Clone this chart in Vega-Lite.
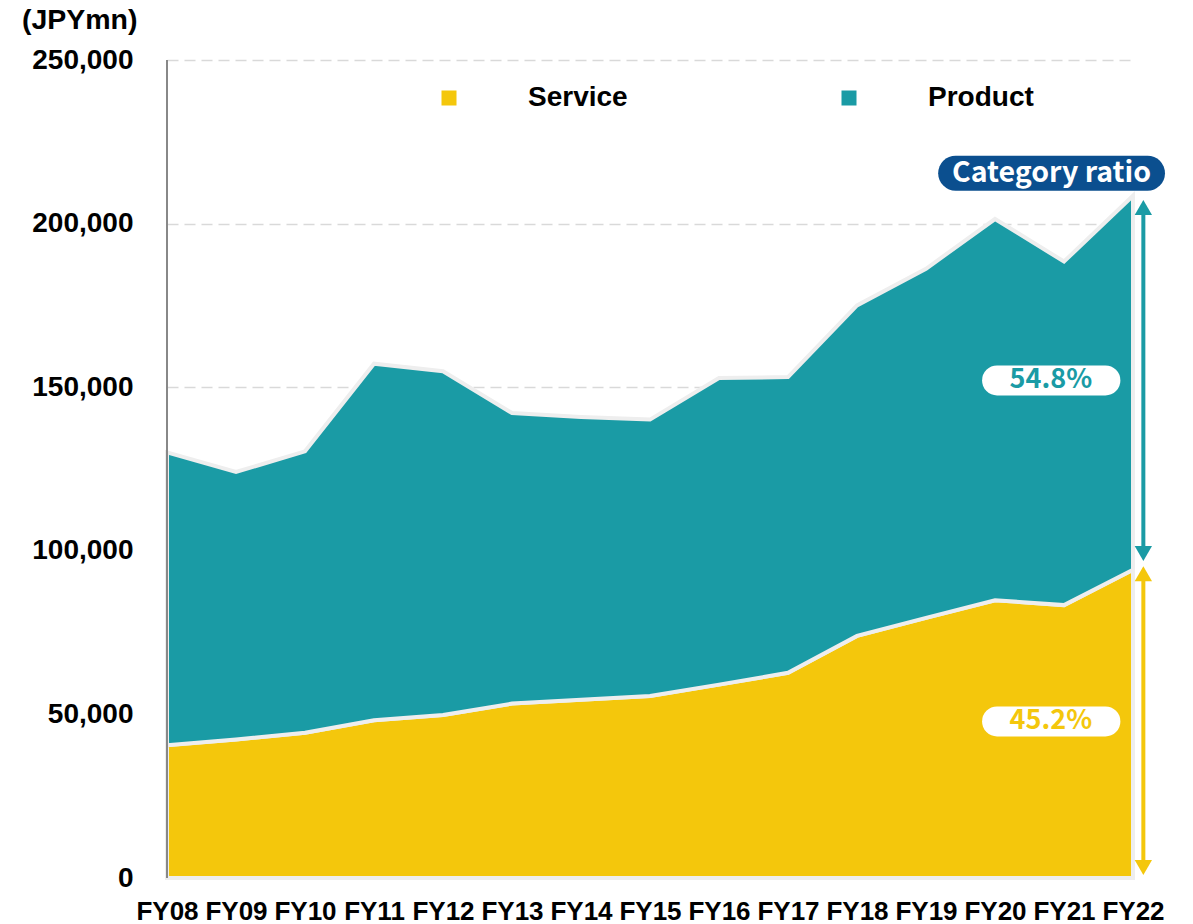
{
  "$schema": "https://vega.github.io/schema/vega-lite/v6.json",
  "width": 966,
  "height": 818,
  "autosize": {"type": "none"},
  "padding": {"left": 167, "top": 60, "right": 60, "bottom": 46},
  "background": "white",
  "config": {"view": {"stroke": null}, "font": "Liberation Sans"},
  "datasets": {
    "sales": [
      {"year": 2008, "category": "Service", "value": 40600},
      {"year": 2009, "category": "Service", "value": 42300},
      {"year": 2010, "category": "Service", "value": 44400},
      {"year": 2011, "category": "Service", "value": 48200},
      {"year": 2012, "category": "Service", "value": 49800},
      {"year": 2013, "category": "Service", "value": 53300},
      {"year": 2014, "category": "Service", "value": 54500},
      {"year": 2015, "category": "Service", "value": 55600},
      {"year": 2016, "category": "Service", "value": 59100},
      {"year": 2017, "category": "Service", "value": 62700},
      {"year": 2018, "category": "Service", "value": 74000},
      {"year": 2019, "category": "Service", "value": 79500},
      {"year": 2020, "category": "Service", "value": 84900},
      {"year": 2021, "category": "Service", "value": 83400},
      {"year": 2022, "category": "Service", "value": 94200},
      {"year": 2008, "category": "Product", "value": 89500},
      {"year": 2009, "category": "Product", "value": 81800},
      {"year": 2010, "category": "Product", "value": 86000},
      {"year": 2011, "category": "Product", "value": 109000},
      {"year": 2012, "category": "Product", "value": 105100},
      {"year": 2013, "category": "Product", "value": 88800},
      {"year": 2014, "category": "Product", "value": 86400},
      {"year": 2015, "category": "Product", "value": 84500},
      {"year": 2016, "category": "Product", "value": 93700},
      {"year": 2017, "category": "Product", "value": 90400},
      {"year": 2018, "category": "Product", "value": 101000},
      {"year": 2019, "category": "Product", "value": 106700},
      {"year": 2020, "category": "Product", "value": 116500},
      {"year": 2021, "category": "Product", "value": 105000},
      {"year": 2022, "category": "Product", "value": 114300}
    ],
    "axisline": [{"x": 2008, "lo": 0, "hi": 250000}],
    "badge": [{"x1": 2019.43, "x2": 2022.21, "xm": 2020.82, "y": 215400, "label": "Category ratio"}],
    "pills": [
      {"x1": 2020.03, "x2": 2021.6, "xm": 2020.81, "y": 152060, "label": "54.8%", "category": "Product"},
      {"x1": 2020.03, "x2": 2021.6, "xm": 2020.81, "y": 47850, "label": "45.2%", "category": "Service"}
    ],
    "arrows": [
      {"category": "Product", "x": 2022.15, "top": 207200, "bottom": 96900},
      {"category": "Service", "x": 2022.15, "top": 95300, "bottom": 900}
    ]
  },
  "layer": [
    {
      "data": {"name": "sales"},
      "mark": {"type": "area", "stroke": "#eeeeee", "strokeWidth": 4, "interpolate": "linear", "opacity": 1},
      "encoding": {
        "x": {
          "field": "year", "type": "quantitative",
          "scale": {"domain": [2008, 2022], "nice": false, "zero": false},
          "axis": {
            "values": [2008, 2009, 2010, 2011, 2012, 2013, 2014, 2015, 2016, 2017, 2018, 2019, 2020, 2021, 2022],
            "labelExpr": "'FY' + substring(toString(datum.value), 2)",
            "title": null, "grid": false, "domain": false, "ticks": false,
            "labelFontSize": 26, "labelFontWeight": "bold", "labelColor": "#000000",
            "labelPadding": 20, "labelOverlap": false, "labelFlush": false, "labelFont": "Liberation Sans"
          }
        },
        "y": {
          "field": "value", "type": "quantitative", "stack": "zero",
          "scale": {"domain": [0, 250000], "nice": false},
          "axis": {
            "values": [0, 50000, 100000, 150000, 200000, 250000],
            "format": ",.0f",
            "title": "(JPYmn)", "titleAngle": 0, "titleAlign": "right", "titleBaseline": "middle",
            "titleX": -30, "titleY": -41, "titleFontSize": 28.5, "titleFontWeight": "bold", "titleColor": "#000000",
            "titleFont": "Liberation Sans",
            "labelFontSize": 28, "labelFontWeight": "bold", "labelColor": "#000000", "labelFont": "Liberation Sans",
            "labelPadding": 34, "ticks": false, "domain": false,
            "grid": true, "gridColor": "#d9d9d9", "gridDash": [11, 6], "gridWidth": 1.5
          }
        },
        "color": {
          "field": "category", "type": "nominal",
          "scale": {"domain": ["Service", "Product"], "range": ["#F4C70C", "#1A9BA5"]},
          "legend": {
            "title": null, "orient": "none", "legendX": 268, "legendY": 24, "direction": "horizontal",
            "symbolType": "square", "symbolSize": 100,
            "symbolStrokeColor": "#e6e6e6", "symbolStrokeWidth": 5,
            "labelFontSize": 28, "labelFontWeight": "bold", "labelColor": "#000000", "labelFont": "Liberation Sans",
            "labelOffset": 65, "columnPadding": 206, "padding": 0,
            "encode": {"symbols": {"enter": {"stroke": {"value": "#e6e6e6"}, "strokeWidth": {"value": 5}}, "update": {"stroke": {"value": "#e6e6e6"}, "strokeWidth": {"value": 5}}}}
          }
        },
        "order": {"field": "category", "sort": "descending"}
      }
    },
    {
      "data": {"name": "axisline"},
      "mark": {"type": "rule", "color": "#888888", "strokeWidth": 2},
      "encoding": {
        "x": {"field": "x", "type": "quantitative"},
        "y": {"field": "lo", "type": "quantitative"},
        "y2": {"field": "hi"}
      }
    },
    {
      "data": {"name": "badge"},
      "mark": {"type": "rule", "color": "#0B4F8F", "strokeWidth": 35, "strokeCap": "round"},
      "encoding": {
        "x": {"field": "x1", "type": "quantitative"},
        "x2": {"field": "x2"},
        "y": {"field": "y", "type": "quantitative"}
      }
    },
    {
      "data": {"name": "badge"},
      "mark": {"type": "text", "color": "#ffffff", "font": "Noto Sans CJK JP", "fontWeight": "bold", "fontSize": 28.5, "align": "center", "baseline": "middle"},
      "encoding": {
        "x": {"field": "xm", "type": "quantitative"},
        "y": {"field": "y", "type": "quantitative"},
        "text": {"field": "label"}
      }
    },
    {
      "data": {"name": "pills"},
      "mark": {"type": "rule", "color": "#ffffff", "strokeWidth": 30, "strokeCap": "round"},
      "encoding": {
        "x": {"field": "x1", "type": "quantitative"},
        "x2": {"field": "x2"},
        "y": {"field": "y", "type": "quantitative"}
      }
    },
    {
      "data": {"name": "pills"},
      "mark": {"type": "text", "font": "Noto Sans CJK JP", "fontWeight": "bold", "fontSize": 27, "align": "center", "baseline": "middle"},
      "encoding": {
        "x": {"field": "xm", "type": "quantitative"},
        "y": {"field": "y", "type": "quantitative"},
        "text": {"field": "label"},
        "color": {"field": "category", "type": "nominal"}
      }
    },
    {
      "data": {"name": "arrows"},
      "mark": {"type": "rule", "strokeWidth": 4, "yOffset": 8, "y2Offset": -8},
      "encoding": {
        "x": {"field": "x", "type": "quantitative"},
        "y": {"field": "top", "type": "quantitative"},
        "y2": {"field": "bottom"},
        "color": {"field": "category", "type": "nominal"}
      }
    },
    {
      "data": {"name": "arrows"},
      "mark": {"type": "point", "shape": "triangle-up", "filled": true, "size": 300, "opacity": 1, "yOffset": 7.5},
      "encoding": {
        "x": {"field": "x", "type": "quantitative"},
        "y": {"field": "top", "type": "quantitative"},
        "color": {"field": "category", "type": "nominal"}
      }
    },
    {
      "data": {"name": "arrows"},
      "mark": {"type": "point", "shape": "triangle-down", "filled": true, "size": 300, "opacity": 1, "yOffset": -7.5},
      "encoding": {
        "x": {"field": "x", "type": "quantitative"},
        "y": {"field": "bottom", "type": "quantitative"},
        "color": {"field": "category", "type": "nominal"}
      }
    }
  ]
}
